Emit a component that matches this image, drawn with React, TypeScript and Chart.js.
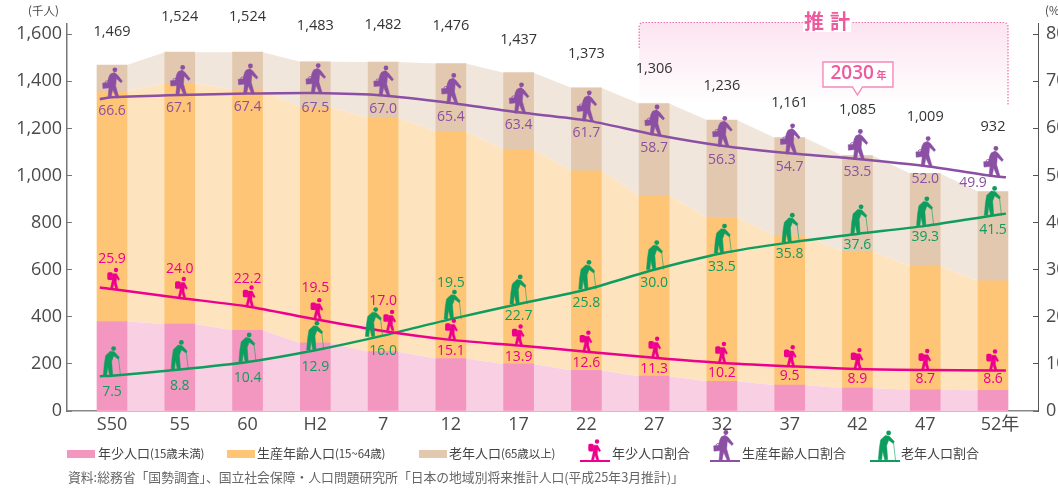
import React, { useEffect, useRef } from "react";
import { Chart, registerables } from "chart.js";

Chart.register(...registerables);

const categories = ["S50", "55", "60", "H2", "7", "12", "17", "22", "27", "32", "37", "42", "47", "52年"];
const totalPopulation = [1469, 1524, 1524, 1483, 1482, 1476, 1437, 1373, 1306, 1236, 1161, 1085, 1009, 932];
const youngPopulation = [380, 369, 343, 289, 252, 223, 200, 173, 148, 126, 110, 97, 90, 88];
const workingPopulation = [978, 1023, 1022, 1001, 993, 965, 911, 847, 767, 696, 635, 580, 525, 465];
const elderlyPopulation = [111, 132, 159, 193, 237, 288, 326, 353, 391, 414, 416, 408, 394, 379];
const youngShare = [25.9, 24.0, 22.2, 19.5, 17.0, 15.1, 13.9, 12.6, 11.3, 10.2, 9.5, 8.9, 8.7, 8.6];
const workingShare = [66.6, 67.1, 67.4, 67.5, 67.0, 65.4, 63.4, 61.7, 58.7, 56.3, 54.7, 53.5, 52.0, 49.9];
const elderlyShare = [7.5, 8.8, 10.4, 12.9, 16.0, 19.5, 22.7, 25.8, 30.0, 33.5, 35.8, 37.6, 39.3, 41.5];
const youngLineEnds = [26.2, 8.6];
const workingLineEnds = [66.2, 49.6];
const elderlyLineEnds = [7.4, 41.9];
const leftTicks = { max: 1644.5, step: 200 };
const rightTicks = { max: 82.2, step: 10 };

const PINK = "#ec008c";
const PURPLE = "#8b4fa3";
const GREEN = "#0f9d5f";
const ACCENT = "#ee5a9d";
const LATIN = '"Open Sans", "Noto Sans CJK JP", sans-serif';
const CJK = '"Noto Sans CJK JP", "Noto Sans", sans-serif';
const BAR_HALF = 15 / 67.77;

// label offsets, in pixels, from the point on the share line
const workingLabelDy = [14, 13.5, 14, 14.5, 14, 13.7, 13, 13, 14, 14, 14, 13.5, 12.5, 7.5];
const youngLabelDy = [-30, -29, -27, -31, -30, 11, 11, 11, 11, 10, 10, 10, 9, 9];
const elderlyLabelDy = [16, 16.5, 16, 17, 15.5, -36, 12, 14, 13, 14, 12, 11, 11, 14];
const totalLabelLift = [33, 35, 35, 36, 37, 38, 33, 34, 35, 34, 35, 46, 57, 65];
const elderlyIconDx = [-3, -3, -3, -3, -12, -1, -3, -2, -2, -2, -2, -1, -3, -3];
const youngIconDx = [2, 2, 2, 2, 7, 1, 0, 0, 1, 0, 1, 0, 0, 0];

type Ctx = CanvasRenderingContext2D;

function poly(ctx: Ctx, pts: number[][], ox: number, oy: number, bx: number, by: number) {
  ctx.beginPath();
  pts.forEach(([a, b], i) => {
    const px = ox + (a - bx) / 3;
    const py = oy + (b - by) / 3;
    if (i === 0) ctx.moveTo(px, py);
    else ctx.lineTo(px, py);
  });
  ctx.closePath();
  ctx.fill();
  ctx.stroke();
}

function head(ctx: Ctx, cx: number, cy: number, r: number) {
  ctx.beginPath();
  ctx.arc(cx, cy, r, 0, Math.PI * 2);
  ctx.fill();
}

function drawWorker(ctx: Ctx, x: number, y: number) {
  ctx.save();
  ctx.fillStyle = PURPLE;
  ctx.strokeStyle = PURPLE;
  ctx.lineWidth = 0.5;
  ctx.lineJoin = "round";
  head(ctx, x + 1.9, y - 28, 2.4);
  poly(
    ctx,
    [[60, 42], [72, 37], [81, 44], [96, 63], [92, 68], [78, 55], [76, 78], [86, 113], [78, 113], [67, 88], [62, 113], [53, 113], [56, 82], [57, 70], [51, 71], [55, 52]],
    x, y, 68, 113
  );
  poly(ctx, [[37, 69], [58, 67], [59, 83], [38, 85]], x, y, 68, 113);
  ctx.lineWidth = 0.8;
  ctx.beginPath();
  ctx.arc(x - 6, y - 15, 2, Math.PI, 0);
  ctx.stroke();
  ctx.restore();
}

function drawElder(ctx: Ctx, x: number, y: number) {
  ctx.save();
  ctx.fillStyle = GREEN;
  ctx.strokeStyle = GREEN;
  ctx.lineWidth = 0.5;
  ctx.lineJoin = "round";
  head(ctx, x + 4.6, y - 27.6, 2.4);
  poly(
    ctx,
    [[62, 122], [74, 124], [89, 140], [86, 146], [72, 136], [66, 152], [69, 195], [60, 195], [54, 168], [51, 195], [41, 195], [44, 160], [48, 135]],
    x, y, 58, 197
  );
  ctx.strokeStyle = "rgba(15,157,95,0.65)";
  ctx.lineWidth = 0.9;
  ctx.beginPath();
  ctx.moveTo(x + 9.5, y - 18);
  ctx.lineTo(x + 11.5, y - 0.5);
  ctx.stroke();
  ctx.restore();
}

function drawChild(ctx: Ctx, x: number, y: number) {
  ctx.save();
  ctx.fillStyle = PINK;
  ctx.strokeStyle = PINK;
  ctx.lineWidth = 0.4;
  ctx.lineJoin = "round";
  head(ctx, x + 2, y - 19, 2.2);
  poly(
    ctx,
    [[68, 42], [80, 42], [89, 59], [85, 62], [80, 55], [79, 68], [84, 87], [77, 87], [72, 72], [68, 87], [61, 87], [66, 65]],
    x, y, 72, 88
  );
  ctx.beginPath();
  ctx.roundRect(x - 6.7, y - 16.7, 5.4, 7.6, 1.6);
  ctx.fill();
  ctx.restore();
}

const areaData = (values: number[]) =>
  values.flatMap((v, i) => [
    { x: i - BAR_HALF, y: v },
    { x: i + BAR_HALF, y: v },
  ]);
const barData = (values: number[]) => values.map((v, i) => ({ x: i, y: v }));
const lineData = (values: number[], ends: number[]) => [
  { x: -0.18, y: ends[0] },
  ...values.map((v, i) => ({ x: i, y: v })),
  { x: 13.19, y: ends[1] },
];

const overlayPlugin = {
  id: "overlay",
  beforeDatasetsDraw(chart: any) {
    const { ctx, scales } = chart;
    const left = scales.x.getPixelForValue(8 - BAR_HALF);
    const right = scales.x.getPixelForValue(13 + BAR_HALF);
    const top = 22.5;
    const bottom = 106;
    ctx.save();
    const g = ctx.createLinearGradient(0, top, 0, bottom);
    g.addColorStop(0, "#fce4f0");
    g.addColorStop(1, "#ffffff");
    ctx.fillStyle = g;
    ctx.beginPath();
    ctx.roundRect(left, top, right - left, bottom - top, [5, 5, 0, 0]);
    ctx.fill();
    ctx.strokeStyle = "#f06fa9";
    ctx.lineWidth = 1.2;
    ctx.setLineDash([1.5, 1.5]);
    ctx.beginPath();
    ctx.moveTo(left, 48);
    ctx.lineTo(left, top + 4);
    ctx.arcTo(left, top, left + 4, top, 4);
    ctx.lineTo(right - 4, top);
    ctx.arcTo(right, top, right, top + 4, 4);
    ctx.lineTo(right, bottom);
    ctx.stroke();
    ctx.setLineDash([]);
    ctx.fillStyle = "#ffffff";
    ctx.fillRect(803, 12, 48, 20);
    ctx.fillStyle = ACCENT;
    ctx.font = `700 20px ${CJK}`;
    ctx.textAlign = "left";
    ctx.textBaseline = "middle";
    (ctx as any).letterSpacing = "6px";
    ctx.fillText("推計", 804, 21);
    (ctx as any).letterSpacing = "0px";
    ctx.restore();
  },
  afterDatasetsDraw(chart: any) {
    const { ctx, scales } = chart;
    const x = scales.x;
    const y = scales.y;
    const y2 = scales.y2;
    ctx.save();
    categories.forEach((_, i) => {
      const cx = x.getPixelForValue(i);
      drawWorker(ctx, cx + 1, y2.getPixelForValue(workingShare[i]) + 0.5);
      drawChild(ctx, cx + youngIconDx[i], y2.getPixelForValue(youngShare[i]));
      drawElder(ctx, cx + elderlyIconDx[i], y2.getPixelForValue(elderlyShare[i]) + (i === 4 ? 1.5 : 0.5));
    });
    ctx.textAlign = "center";
    ctx.textBaseline = "middle";
    categories.forEach((_, i) => {
      const cx = x.getPixelForValue(i);
      ctx.font = `400 14.5px ${LATIN}`;
      ctx.fillStyle = "#333333";
      ctx.fillText(totalPopulation[i].toLocaleString("en-US"), cx, y.getPixelForValue(totalPopulation[i]) - totalLabelLift[i]);
      ctx.font = `500 14px ${LATIN}`;
      ctx.fillStyle = PURPLE;
      ctx.fillText(workingShare[i].toFixed(1), i === 13 ? cx - 20 : cx, y2.getPixelForValue(workingShare[i]) + workingLabelDy[i]);
      ctx.fillStyle = PINK;
      ctx.fillText(youngShare[i].toFixed(1), cx, y2.getPixelForValue(youngShare[i]) + youngLabelDy[i]);
      ctx.fillStyle = GREEN;
      ctx.fillText(elderlyShare[i].toFixed(1), cx, y2.getPixelForValue(elderlyShare[i]) + elderlyLabelDy[i]);
    });

    // 2030 callout above the 42 column
    const bx = x.getPixelForValue(11);
    ctx.fillStyle = "#ffffff";
    ctx.strokeStyle = "#f48ab8";
    ctx.lineWidth = 1.4;
    ctx.beginPath();
    ctx.moveTo(bx - 34.5, 62);
    ctx.lineTo(bx + 35.5, 62);
    ctx.lineTo(bx + 35.5, 87);
    ctx.lineTo(bx + 5, 87);
    ctx.lineTo(bx, 95);
    ctx.lineTo(bx - 5, 87);
    ctx.lineTo(bx - 34.5, 87);
    ctx.closePath();
    ctx.fill();
    ctx.stroke();
    ctx.fillStyle = ACCENT;
    ctx.textAlign = "left";
    ctx.font = `600 19px ${LATIN}`;
    ctx.fillText("2030", bx - 27, 74);
    ctx.font = `700 10px ${CJK}`;
    ctx.fillText("年", bx + 19, 75.5);

    // legend figures
    const legend: [number, number, string, (c: Ctx, a: number, b: number) => void, number][] = [
      [580, 610, PINK, drawChild, 595],
      [710, 740, PURPLE, drawWorker, 724],
      [870, 900, GREEN, drawElder, 884],
    ];
    legend.forEach(([a, b, color, draw, ix]) => {
      ctx.strokeStyle = color;
      ctx.lineWidth = 2;
      ctx.beginPath();
      ctx.moveTo(a, 461);
      ctx.lineTo(b, 461);
      ctx.stroke();
      draw(ctx, ix, 460.5);
    });
    ctx.restore();
  },
};

const legendText: React.CSSProperties = {
  position: "absolute",
  top: 444,
  fontFamily: CJK,
  fontSize: 13,
  lineHeight: "18px",
  color: "#444",
  whiteSpace: "nowrap",
};
const small: React.CSSProperties = { fontSize: 11.5, letterSpacing: -0.1 };
const swatch = (left: number, background: string): React.CSSProperties => ({
  position: "absolute",
  left,
  top: 450,
  width: 28,
  height: 8,
  background,
});

export default function App() {
  const ref = useRef<HTMLCanvasElement>(null);
  useEffect(() => {
    const tickFont = { family: LATIN, size: 18 };
    const chart = new Chart(ref.current as HTMLCanvasElement, {
      type: "bar",
      data: {
        datasets: [
          { type: "line", label: "年少人口 area", data: areaData(youngPopulation), yAxisID: "y", borderWidth: 0, pointRadius: 0, backgroundColor: "#f9d0e3", fill: "origin", order: 20, tension: 0 },
          { type: "line", label: "生産年齢人口 area", data: areaData(workingPopulation), yAxisID: "y", borderWidth: 0, pointRadius: 0, backgroundColor: "#fde3be", fill: "-1", order: 21, tension: 0 },
          { type: "line", label: "老年人口 area", data: areaData(elderlyPopulation), yAxisID: "y", borderWidth: 0, pointRadius: 0, backgroundColor: "#f1e6db", fill: "-1", order: 22, tension: 0 },
          { type: "bar", label: "年少人口(15歳未満)", data: barData(youngPopulation), yAxisID: "y", stack: "pop", backgroundColor: "#f497c0", barThickness: 30, order: 10 },
          { type: "bar", label: "生産年齢人口(15~64歳)", data: barData(workingPopulation), yAxisID: "y", stack: "pop", backgroundColor: "#fec576", barThickness: 30, order: 10 },
          { type: "bar", label: "老年人口(65歳以上)", data: barData(elderlyPopulation), yAxisID: "y", stack: "pop", backgroundColor: "#e2c8af", barThickness: 30, order: 10 },
          { type: "line", label: "年少人口割合", data: lineData(youngShare, youngLineEnds), yAxisID: "y2", borderColor: PINK, borderWidth: 2.5, pointRadius: 0, tension: 0.25, order: 1 },
          { type: "line", label: "生産年齢人口割合", data: lineData(workingShare, workingLineEnds), yAxisID: "y2", borderColor: PURPLE, borderWidth: 2.5, pointRadius: 0, tension: 0.25, order: 1 },
          { type: "line", label: "老年人口割合", data: lineData(elderlyShare, elderlyLineEnds), yAxisID: "y2", borderColor: GREEN, borderWidth: 2.5, pointRadius: 0, tension: 0.25, order: 1 },
        ] as any,
      },
      options: {
        responsive: false,
        animation: false,
        layout: { padding: { top: 23, left: 0, right: 0, bottom: 0 } },
        plugins: { legend: { display: false }, tooltip: { enabled: false }, title: { display: false } },
        scales: {
          x: {
            type: "linear",
            offset: false,
            min: -0.664,
            max: 13.664,
            grid: { display: false, offset: false },
            border: { display: true, color: "#888", width: 1.5 },
            afterFit: (s: any) => { s.height = 79; },
            ticks: {
              stepSize: 1,
              includeBounds: false,
              autoSkip: false,
              maxRotation: 0,
              minRotation: 0,
              padding: -5,
              color: "#4a4a4a",
              font: tickFont,
              callback: (v: any) => (categories[v] === "52年" ? "\u00a0\u00a0\u00a052年" : categories[v] ?? ""),
            },
          },
          y: {
            position: "left",
            stacked: true,
            min: 0,
            max: leftTicks.max,
            afterFit: (s: any) => { s.width = 67; },
            border: { color: "#777", width: 1.5 },
            grid: { drawOnChartArea: false, drawTicks: true, tickLength: -5, tickColor: "#777", tickWidth: 1 },
            ticks: {
              stepSize: leftTicks.step,
              includeBounds: false,
              padding: 10,
              color: "#4a4a4a",
              font: tickFont,
              callback: (v: any) => Number(v).toLocaleString("en-US"),
            },
          },
          y2: {
            position: "right",
            min: 0,
            max: rightTicks.max,
            afterFit: (s: any) => { s.width = 20; },
            border: { color: "#555", width: 1 },
            grid: { drawOnChartArea: false, drawTicks: true, tickLength: -5, tickColor: "#555", tickWidth: 1 },
            ticks: {
              stepSize: rightTicks.step,
              includeBounds: false,
              padding: 13,
              color: "#4a4a4a",
              font: tickFont,
            },
          },
        },
      } as any,
      plugins: [overlayPlugin],
    });
    return () => chart.destroy();
  }, []);

  return (
    <div style={{ position: "absolute", left: 0, top: 0, width: 1058, height: 490, overflow: "hidden", background: "#fff" }}>
      <canvas ref={ref} width={1058} height={490} style={{ display: "block" }} />
      <div style={{ position: "absolute", left: 28, top: 2, fontFamily: CJK, fontSize: 11.5, color: "#444" }}>(千人)</div>
      <div style={{ position: "absolute", left: 1045, top: 2, fontFamily: CJK, fontSize: 11.5, color: "#444" }}>(%)</div>
      <div style={swatch(67, "#f497c0")} />
      <div style={{ ...legendText, left: 98 }}>年少人口<span style={small}>(15歳未満)</span></div>
      <div style={swatch(227, "#fec576")} />
      <div style={{ ...legendText, left: 257 }}>生産年齢人口<span style={small}>(15~64歳)</span></div>
      <div style={swatch(419, "#e2c8af")} />
      <div style={{ ...legendText, left: 449 }}>老年人口<span style={small}>(65歳以上)</span></div>
      <div style={{ ...legendText, left: 612 }}>年少人口割合</div>
      <div style={{ ...legendText, left: 742 }}>生産年齢人口割合</div>
      <div style={{ ...legendText, left: 901 }}>老年人口割合</div>
      <div style={{ position: "absolute", left: 68, top: 468, fontFamily: CJK, fontSize: 12.8, lineHeight: "18px", color: "#666", whiteSpace: "nowrap" }}>
        資料:総務省「国勢調査」、国立社会保障・人口問題研究所「日本の地域別将来推計人口(平成25年3月推計)」
      </div>
    </div>
  );
}
